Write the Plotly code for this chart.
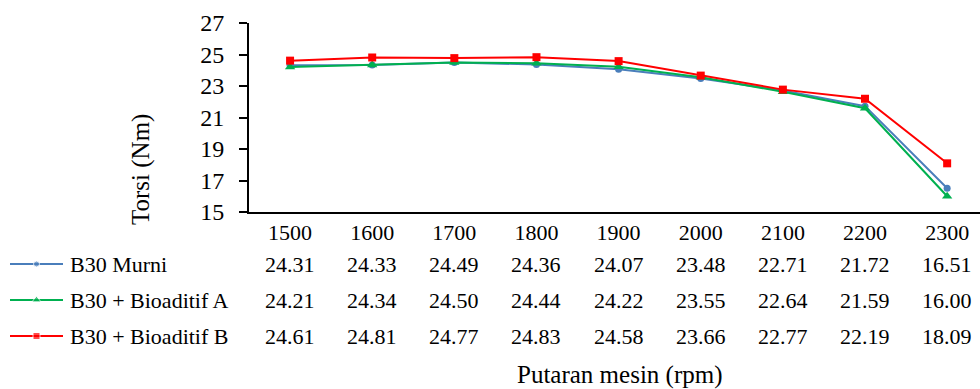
import plotly.graph_objects as go

rpm = ["1500", "1600", "1700", "1800", "1900", "2000", "2100", "2200", "2300"]
series_names = ["B30 Murni", "B30 + Bioaditif A", "B30 + Bioaditif B"]
murni = [24.31, 24.33, 24.49, 24.36, 24.07, 23.48, 22.71, 21.72, 16.51]
bio_a = [24.21, 24.34, 24.50, 24.44, 24.22, 23.55, 22.64, 21.59, 16.00]
bio_b = [24.61, 24.81, 24.77, 24.83, 24.58, 23.66, 22.77, 22.19, 18.09]
y_ticks = [15, 17, 19, 21, 23, 25, 27]

colors = ["#4A7EBB", "#00B050", "#FF0000"]
symbols = ["circle", "triangle-up", "square"]
msizes = [7, 9, 8]
all_series = [murni, bio_a, bio_b]

W, H = 980, 389
PL, PR, PT, PB = 249, 980, 23, 212  # plot area in pixels
FONT = "Times New Roman, Liberation Serif, serif"


def px(x):
    return x / W


def py(y):
    return 1 - y / H


fig = go.Figure()
xi = list(range(len(rpm)))
for name, vals, c, s, ms in zip(series_names, all_series, colors, symbols, msizes):
    fig.add_trace(go.Scatter(x=xi, y=vals, mode="lines+markers", name=name,
                             line=dict(color=c, width=2),
                             marker=dict(symbol=s, size=ms, color=c),
                             showlegend=False))

# legend keys (in table rows) on helper axes
row_y = [264, 300, 336]
for k, (name, c, s, ms) in enumerate(zip(series_names, colors, symbols, msizes)):
    yy = py(row_y[k])
    fig.add_trace(go.Scatter(x=[0, 0.5, 1], y=[yy] * 3, xaxis="x2", yaxis="y2",
                             mode="lines+markers", line=dict(color=c, width=2),
                             marker=dict(symbol=s, size=[0, ms - 1, 0], color=c),
                             showlegend=False, hoverinfo="skip"))
    fig.add_annotation(x=px(68), y=yy, xref="paper", yref="paper", text=name,
                       showarrow=False, xanchor="left", yanchor="middle",
                       font=dict(family=FONT, size=22, color="black"))
    for i, v in enumerate(all_series[k]):
        fig.add_annotation(x=i, y=yy, xref="x", yref="paper", text=f"{v:.2f}",
                           showarrow=False, xanchor="center", yanchor="middle",
                           font=dict(family=FONT, size=22, color="black"))

# titles
fig.add_annotation(x=px(141), y=py(170), xref="paper", yref="paper",
                   text="Torsi (Nm)", textangle=-90, showarrow=False,
                   xanchor="center", yanchor="middle",
                   font=dict(family=FONT, size=25, color="black"))
fig.add_annotation(x=px(620), y=py(375), xref="paper", yref="paper",
                   text="Putaran mesin (rpm)", showarrow=False,
                   xanchor="center", yanchor="middle",
                   font=dict(family=FONT, size=25, color="black"))

fig.update_layout(
    width=W, height=H, margin=dict(l=0, r=0, t=0, b=0),
    paper_bgcolor="white", plot_bgcolor="white",
    font=dict(family=FONT, size=22, color="black"),
    xaxis=dict(domain=[px(PL), px(PR)], range=[-0.5, 8.4], tickmode="array",
               tickvals=xi, ticktext=rpm, anchor="y", automargin=False,
               showline=True, linecolor="black", linewidth=2, showgrid=False,
               zeroline=False, ticks="", ticklabelstandoff=0,
               tickfont=dict(family=FONT, size=22, color="black")),
    yaxis=dict(domain=[py(PB), py(PT)], range=[15, 27], tickmode="array",
               tickvals=y_ticks, anchor="x", automargin=False,
               showline=True, linecolor="black", linewidth=2, showgrid=False,
               zeroline=False, ticks="outside", ticklen=8, tickwidth=2,
               tickcolor="black", ticklabelstandoff=10,
               tickfont=dict(family=FONT, size=24, color="black")),
    xaxis2=dict(domain=[px(10), px(63)], range=[0, 1], visible=False,
                anchor="y2", automargin=False),
    yaxis2=dict(domain=[0, 1], range=[0, 1], visible=False, anchor="x2",
                automargin=False),
)

fig.write_html("out.html")
